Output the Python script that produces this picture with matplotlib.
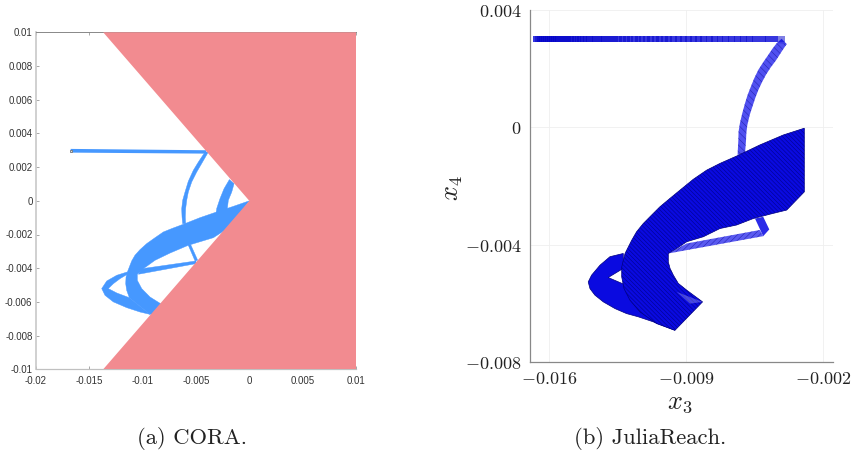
"""Figure: reachable sets, CORA vs JuliaReach, 2-panel."""
import matplotlib
matplotlib.use("Agg")
import matplotlib.pyplot as plt
from matplotlib.patches import Polygon, Rectangle

PINK = "#f28b90"
LIGHT_BLUE = "#4698ff"
BLUE = "#0a0ae0"
DARK = "#000080"

# panel (a), x3 / x4 outlines
cora_xticks = [-0.02, -0.015, -0.01, -0.005, 0, 0.005, 0.01]
cora_xlabels = ["-0.02", "-0.015", "-0.01", "-0.005", "0", "0.005", "0.01"]
cora_yticks = [-0.01, -0.008, -0.006, -0.004, -0.002, 0, 0.002, 0.004, 0.006, 0.008, 0.01]
cora_ylabels = ["-0.01", "-0.008", "-0.006", "-0.004", "-0.002", "0",
                "0.002", "0.004", "0.006", "0.008", "0.01"]
guard = [(-0.0137, 0.01), (0, 0), (-0.0137, -0.01), (0.01, -0.01), (0.01, 0.01)]
cora_start = (-0.01675, 0.00298)
cora_top = [(-0.01675, 0.00308), (-0.00406, 0.0030), (-0.00406, 0.0028), (-0.01675, 0.00286)]
cora_arc = [(-0.00415, 0.0029), (-0.00478, 0.0023), (-0.00525, 0.00181), (-0.00572, 0.00116),
            (-0.00603, 0.00052), (-0.00625, 0.00003), (-0.00634, -0.00047), (-0.00631, -0.00096),
            (-0.00625, -0.00136), (-0.00597, -0.00136), (-0.006, -0.00096), (-0.00597, -0.00047),
            (-0.00587, 0.00003), (-0.00572, 0.00052), (-0.0054, 0.00112), (-0.00493, 0.00171),
            (-0.00447, 0.00221), (-0.00384, 0.0029)]
cora_arc2 = [(-0.00187, 0.00126), (-0.00237, 0.00072), (-0.00275, 0.00013), (-0.00306, -0.00046),
             (-0.00312, -0.00076), (-0.00206, -0.00047), (-0.00197, 0.00003), (-0.00165, 0.00052),
             (-0.00143, 0.00102)]
cora_main = [(0, 0), (-0.0015, -0.00033), (-0.00306, -0.00066), (-0.00462, -0.001),
             (-0.00618, -0.00139), (-0.00728, -0.00165), (-0.00806, -0.00185), (-0.00884, -0.00219),
             (-0.00962, -0.00254), (-0.01025, -0.0029), (-0.01072, -0.00323), (-0.01103, -0.00357),
             (-0.01125, -0.00393), (-0.01143, -0.00422), (-0.01156, -0.00452), (-0.01159, -0.00492),
             (-0.0115, -0.00531), (-0.01125, -0.00575), (-0.00931, -0.00674), (-0.00743, -0.0065),
             (-0.00843, -0.00606), (-0.00931, -0.00571), (-0.01009, -0.00521), (-0.0105, -0.00472),
             (-0.0105, -0.00436), (-0.00993, -0.00403), (-0.00884, -0.00353), (-0.00743, -0.0031),
             (-0.00572, -0.00264), (-0.00337, -0.00219), (-0.00181, -0.00155)]
cora_loop = [(-0.01143, -0.00422), (-0.01243, -0.00442), (-0.01337, -0.00476), (-0.01384, -0.00521),
             (-0.01353, -0.00561), (-0.01275, -0.006), (-0.0115, -0.00634), (-0.01025, -0.0066),
             (-0.00931, -0.00674), (-0.01125, -0.00575), (-0.01243, -0.00547), (-0.01322, -0.00521),
             (-0.01275, -0.00492), (-0.01212, -0.00462), (-0.01143, -0.00436)]
cora_thin1 = [(-0.01009, -0.00403), (-0.005, -0.00357), (-0.005, -0.00373), (-0.0104, -0.00436)]
cora_thin2 = [(-0.00572, -0.00264), (-0.0055, -0.0026), (-0.00484, -0.00353), (-0.00509, -0.00357)]

# panel (b)
jr_xticks = [-0.016, -0.009, -0.002]
jr_yticks = [-0.008, -0.004, 0, 0.004]
jr_xlabels = ["$-0.016$", "$-0.009$", "$-0.002$"]
jr_ylabels = ["$-0.008$", "$-0.004$", "$0$", "$0.004$"]
jr_top_x3 = [-0.01682, -0.01672, -0.01661, -0.01651, -0.01641, -0.01631, -0.01620, -0.01610,
             -0.01600, -0.01590, -0.01580, -0.01569, -0.01557, -0.01545, -0.01534, -0.01522,
             -0.01510, -0.01498, -0.01484, -0.01471, -0.01457, -0.01443, -0.01430, -0.01414,
             -0.01399, -0.01384, -0.01368, -0.01351, -0.01334, -0.01317, -0.01300, -0.01282,
             -0.01263, -0.01244, -0.01225, -0.01205, -0.01184, -0.01164, -0.01144, -0.01121,
             -0.01099, -0.01077, -0.01055, -0.01031, -0.01007, -0.00983, -0.00958, -0.00932,
             -0.00907, -0.00881, -0.00856, -0.00828, -0.00801, -0.00774, -0.00745, -0.00716,
             -0.00687, -0.00656, -0.00626, -0.00595, -0.00563, -0.00530, -0.00498, -0.00464,
             -0.00430]
jr_top_x4 = 0.0030
jr_corner = [(-0.00413, 0.00302), (-0.00387, 0.00284), (-0.00413, 0.00266), (-0.00438, 0.00287)]
jr_arc = [(-0.00438, 0.00287), (-0.00461, 0.00267), (-0.00481, 0.00247), (-0.00507, 0.00222),
          (-0.00532, 0.00196), (-0.00553, 0.00167), (-0.0057, 0.00139), (-0.00587, 0.0011),
          (-0.006, 0.00082), (-0.00614, 0.00048), (-0.00626, 0.00014), (-0.00633, -0.00015),
          (-0.00634, -0.00043), (-0.00638, -0.00094), (-0.006, -0.00089), (-0.00595, -0.00046),
          (-0.00593, -0.00018), (-0.00588, 0.00008), (-0.00576, 0.00042), (-0.00561, 0.00073),
          (-0.00547, 0.00101), (-0.00532, 0.00127), (-0.00513, 0.00154), (-0.00493, 0.00179),
          (-0.00469, 0.00204), (-0.00442, 0.00228), (-0.00415, 0.00256), (-0.00387, 0.00284)]
jr_main = [(-0.00297, -0.00003), (-0.00404, -0.00026), (-0.00524, -0.0006), (-0.00643, -0.00098),
           (-0.00728, -0.00123), (-0.00796, -0.00146), (-0.00864, -0.00177), (-0.00932, -0.00214),
           (-0.00983, -0.00242), (-0.01035, -0.00271), (-0.01077, -0.00299), (-0.0112, -0.00328),
           (-0.01154, -0.00356), (-0.01179, -0.00385), (-0.01213, -0.0043), (-0.0123, -0.00476),
           (-0.0123, -0.0051), (-0.01218, -0.0055), (-0.01188, -0.00589), (-0.01137, -0.00629),
           (-0.01052, -0.00669), (-0.00958, -0.00692), (-0.00817, -0.00595), (-0.00898, -0.00555),
           (-0.00941, -0.00532), (-0.00966, -0.00504), (-0.00983, -0.00481), (-0.00992, -0.00459),
           (-0.00992, -0.0043), (-0.00949, -0.00413), (-0.00898, -0.0039), (-0.00813, -0.00373),
           (-0.00728, -0.00345), (-0.00643, -0.00333), (-0.00558, -0.00311), (-0.00472, -0.00296),
           (-0.00387, -0.00282), (-0.00297, -0.0022)]
jr_loop = [(-0.00958, -0.00692), (-0.01069, -0.00663), (-0.01145, -0.00646), (-0.01205, -0.00635),
           (-0.01264, -0.00618), (-0.01324, -0.00595), (-0.01367, -0.00572), (-0.01392, -0.0055),
           (-0.01401, -0.00527), (-0.01384, -0.00504), (-0.01341, -0.0047), (-0.0129, -0.00441),
           (-0.01222, -0.0043), (-0.01222, -0.00481), (-0.01299, -0.00512), (-0.01208, -0.00538),
           (-0.01137, -0.00618)]
jr_thin = [(-0.00898, -0.00396), (-0.00524, -0.0035), (-0.00507, -0.00371), (-0.00992, -0.0043)]
jr_bit = [(-0.00549, -0.00311), (-0.00507, -0.00305), (-0.00476, -0.00348), (-0.00507, -0.00371)]
jr_fade = [(-0.00817, -0.00595), (-0.00949, -0.00561), (-0.00881, -0.00601)]


def panel_a(ax):
    ax.fill(*zip(*cora_top), color=LIGHT_BLUE, lw=0)
    for poly in [cora_arc, cora_arc2, cora_main, cora_loop, cora_thin1, cora_thin2]:
        ax.add_patch(Polygon(poly, closed=True, fc=LIGHT_BLUE, ec=LIGHT_BLUE, lw=0.3))
    ax.plot(*cora_start, "s", ms=1.8, mfc="#e0e0e0", mec="#777777", mew=0.6)
    ax.add_patch(Polygon(guard, closed=True, fc=PINK, lw=0, zorder=3))
    ax.set_xlim(-0.02, 0.01)
    ax.set_ylim(-0.01, 0.01)
    ax.set_xticks(cora_xticks, cora_xlabels)
    ax.set_yticks(cora_yticks, cora_ylabels)
    ax.tick_params(direction="in", length=2.5, width=0.6, color="#999999",
                   labelsize=7, labelcolor="#333333", top=True)
    ax.tick_params(axis="x", pad=5)
    ax.tick_params(axis="y", pad=2.5)
    for label in ax.get_xticklabels() + ax.get_yticklabels():
        label.set_family(["Liberation Sans Narrow", "Liberation Sans"])
    ax.spines["right"].set_visible(False)
    ax.spines["left"].set(color="#c8c8c8", lw=1.2)
    ax.spines["top"].set(color="#888888", lw=0.7)
    ax.spines["bottom"].set(color="#c0c0c0", lw=0.9)


def panel_b(ax):
    ax.grid(color="#efefef", lw=0.6)
    ax.set_axisbelow(True)
    ax.add_patch(Rectangle((jr_top_x3[0], jr_top_x4 - 0.0001), jr_top_x3[-1] - jr_top_x3[0],
                           0.0002, fc="#7070f5", lw=0))
    for x3 in jr_top_x3:
        ax.add_patch(Rectangle((x3, jr_top_x4 - 0.0001), 0.00035, 0.0002, fc="#0000c8", lw=0, alpha=0.5))
    ax.add_patch(Polygon(jr_corner, closed=True, fc=BLUE, lw=0, alpha=0.8))
    ax.add_patch(Polygon(jr_arc, closed=True, fc="#5050f0", ec="#2020a8", lw=0, hatch="\\\\\\\\\\"))
    ax.add_patch(Polygon(jr_thin, closed=True, fc="#5a5af0", ec="#2020b0", lw=0, hatch="//////"))
    ax.add_patch(Polygon(jr_bit, closed=True, fc="#2a2ae8", ec=DARK, lw=0))
    ax.add_patch(Polygon(jr_loop, closed=True, fc=BLUE, ec=DARK, lw=0.5))
    ax.add_patch(Polygon(jr_main, closed=True, fc=BLUE, ec=DARK, lw=0.5, hatch="\\\\\\\\\\\\\\\\"))
    ax.add_patch(Polygon(jr_fade, closed=True, fc="white", lw=0, alpha=0.25))
    ax.set_xlim(-0.016986, -0.001504)
    ax.set_ylim(-0.008, 0.004)
    ax.set_xticks(jr_xticks, jr_xlabels)
    ax.set_yticks(jr_yticks, jr_ylabels)
    ax.tick_params(length=0, labelsize=13, labelcolor="#222222", pad=6)
    ax.spines[["top", "right"]].set_visible(False)
    ax.spines[["left", "bottom"]].set(color="#888888", lw=0.9)


def main():
    plt.rcParams["mathtext.fontset"] = "cm"
    plt.rcParams["hatch.linewidth"] = 0.35
    fig = plt.figure(figsize=(8.52, 4.55), dpi=100)
    W, H = 852, 455
    ax_a = fig.add_axes([36 / W, 1 - 369.3 / H, 320 / W, 337 / H])
    ax_b = fig.add_axes([530 / W, 1 - 362 / H, 303 / W, 352 / H])
    panel_a(ax_a)
    panel_b(ax_b)
    fig.text(680 / W, 1 - 402 / H, "$x_3$", fontsize=19, ha="center", va="center", color="#222222")
    fig.text(452 / W, 1 - 188 / H, "$x_4$", fontsize=19, rotation=90, ha="center", va="center",
             color="#222222")
    fig.text(192 / W, 1 - 438 / H, "(a) CORA.", family="cmr10", fontsize=16.3, ha="center",
             va="center", color="#222222")
    fig.text(650 / W, 1 - 439 / H, "(b) JuliaReach.", family="cmr10", fontsize=16.3, ha="center",
             va="center", color="#222222")
    fig.savefig("out.png", dpi=100)


if __name__ == "__main__":
    main()
